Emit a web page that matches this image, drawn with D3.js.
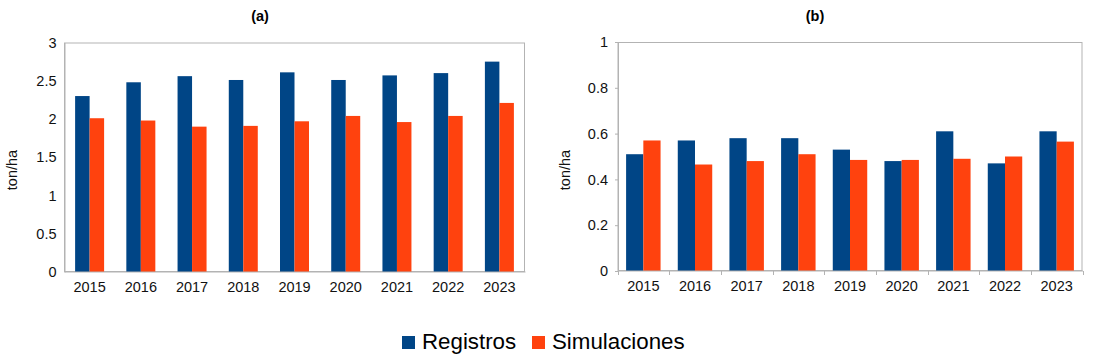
<!DOCTYPE html>
<html>
<head>
<meta charset="utf-8">
<script src="https://cdn.jsdelivr.net/npm/d3@7"></script>
<style>
  html, body { margin: 0; padding: 0; background: #fff; }
  svg { display: block; font-family: "Liberation Sans", Arial, sans-serif; }
</style>
</head>
<body>
<svg id="chart" width="1101" height="358"></svg>
<script>
const years = ["2015","2016","2017","2018","2019","2020","2021","2022","2023"];
const seriesNames = ["Registros", "Simulaciones"];
const seriesColors = ["#004586", "#ff420e"];

// Panel (a)
const registrosA    = [2.30, 2.48, 2.56, 2.51, 2.61, 2.51, 2.57, 2.60, 2.75];
const simulacionesA = [2.01, 1.98, 1.90, 1.91, 1.97, 2.04, 1.96, 2.04, 2.21];
const yTicksA = [0, 0.5, 1, 1.5, 2, 2.5, 3];

// Panel (b)
const registrosB    = [0.51, 0.57, 0.58, 0.58, 0.53, 0.48, 0.61, 0.47, 0.61];
const simulacionesB = [0.57, 0.465, 0.48, 0.51, 0.485, 0.485, 0.49, 0.50, 0.565];
const yTicksB = [0, 0.2, 0.4, 0.6, 0.8, 1];

const yLabel = "ton/ha";

const svg = d3.select("#chart");
const grid = "#b3b3b3";

function panel(cfg) {
  const g = svg.append("g");
  const x0 = d3.scaleBand().domain(years).range([cfg.left, cfg.right]).padding(0);
  const groupW = x0.bandwidth() * cfg.groupFrac;
  const x1 = d3.scaleBand().domain(seriesNames).range([0, groupW]).padding(0);
  const y = d3.scaleLinear().domain([0, cfg.yMax]).range([cfg.bottom, cfg.top]);

  // frame
  g.append("rect")
    .attr("x", cfg.left + 0.5).attr("y", cfg.top + 0.5)
    .attr("width", cfg.right - cfg.left - 1).attr("height", cfg.bottom - cfg.top - 1)
    .attr("fill", "none").attr("stroke", grid).attr("stroke-width", 1);

  // bars
  const data = [cfg.reg, cfg.sim];
  years.forEach((yr, i) => {
    const gx = x0(yr) + (x0.bandwidth() - groupW) / 2;
    seriesNames.forEach((s, k) => {
      const v = data[k][i];
      g.append("rect")
        .attr("x", gx + x1(s))
        .attr("y", y(v))
        .attr("width", x1.bandwidth())
        .attr("height", y(0) - y(v))
        .attr("fill", seriesColors[k]);
    });
  });

  // y axis
  const yAxis = d3.axisLeft(y).tickValues(cfg.yTicks)
    .tickFormat(d => String(d))
    .tickSize(cfg.ticks ? 3 : 0).tickPadding(cfg.ticks ? 7 : 8);
  const ya = g.append("g").attr("transform", `translate(${cfg.left + 0.5},0)`).call(yAxis);
  ya.select(".domain").attr("stroke", grid);
  ya.selectAll(".tick line").attr("stroke", grid);
  ya.selectAll("text").attr("font-size", 14.5).attr("fill", "#111")
    .attr("font-family", "Liberation Sans, Arial, sans-serif");

  // x axis
  const xAxis = d3.axisBottom(x0).tickSize(0).tickPadding(10);
  const xa = g.append("g").attr("transform", `translate(0,${cfg.bottom - 0.5})`).call(xAxis);
  xa.select(".domain").attr("stroke", grid);
  xa.selectAll("text").attr("font-size", 14.5).attr("fill", "#111")
    .attr("font-family", "Liberation Sans, Arial, sans-serif");
  if (cfg.ticks) {
    const bounds = years.map(yr => x0(yr)).concat([cfg.right]);
    g.append("g").selectAll("line").data(bounds).join("line")
      .attr("x1", d => Math.round(d) + 0.5).attr("x2", d => Math.round(d) + 0.5)
      .attr("y1", cfg.bottom).attr("y2", cfg.bottom + 4)
      .attr("stroke", grid);
  }

  // y label
  g.append("text")
    .attr("transform", `translate(${cfg.yLabelX},${cfg.yLabelY}) rotate(-90)`)
    .attr("text-anchor", "middle")
    .attr("font-size", 14.5)
    .attr("fill", "#111")
    .text(yLabel);

  // title
  g.append("text")
    .attr("x", cfg.titleX).attr("y", 21)
    .attr("text-anchor", "middle")
    .attr("font-size", 14.5).attr("font-weight", "bold")
    .attr("fill", "#000")
    .text(cfg.title);
}

panel({ left: 64, right: 525, top: 42.5, bottom: 272, yMax: 3, yTicks: yTicksA,
        reg: registrosA, sim: simulacionesA, groupFrac: 0.566, ticks: false,
        yLabelX: 17, yLabelY: 170, titleX: 260, title: "(a)" });
panel({ left: 617.5, right: 1082.5, top: 42, bottom: 271, yMax: 1, yTicks: yTicksB,
        reg: registrosB, sim: simulacionesB, groupFrac: 0.667, ticks: true,
        yLabelX: 570, yLabelY: 170, titleX: 815, title: "(b)" });

// legend
const legend = svg.append("g");
const legendItems = [
  { name: seriesNames[0], color: seriesColors[0], sx: 402, tx: 422 },
  { name: seriesNames[1], color: seriesColors[1], sx: 532, tx: 552 }
];
legendItems.forEach(it => {
  legend.append("rect").attr("x", it.sx).attr("y", 336).attr("width", 13).attr("height", 13)
    .attr("fill", it.color);
  legend.append("text").attr("x", it.tx).attr("y", 349)
    .attr("font-size", 22.3).attr("fill", "#000").text(it.name);
});
</script>
</body>
</html>
